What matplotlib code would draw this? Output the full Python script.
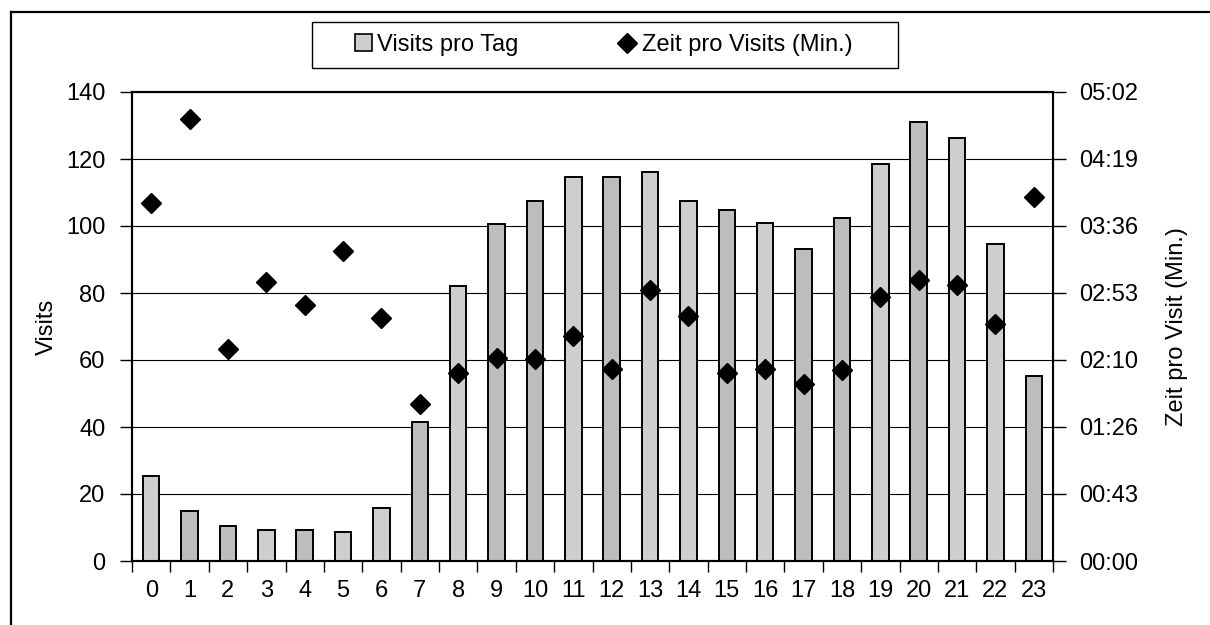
import matplotlib
matplotlib.use("Agg")
import matplotlib.pyplot as plt
from matplotlib.ticker import FuncFormatter, MultipleLocator, FixedLocator, NullFormatter
from matplotlib.lines import Line2D
from matplotlib.patches import Patch, Rectangle

plt.rcParams['font.family'] = ['Liberation Sans', 'DejaVu Sans']

# Hour of day
hours = list(range(24))
# Visits per day, per hour
visits = [25.5, 14.8, 10.5, 9.3, 9.3, 8.8, 15.8, 41.5, 82.0, 100.5, 107.5, 114.5,
          114.5, 116.0, 107.5, 104.8, 101.0, 93.0, 102.3, 118.5, 131.0, 126.3, 94.7, 55.3]
# Time per visit, in seconds
time_per_visit = [231, 285, 137, 180, 165, 200, 157, 101, 121, 131, 130, 145,
                  124, 175, 158, 121, 124, 114, 123, 170, 181, 178, 153, 235]

bar_light = "#cecece"
bar_dark = "#bdbdbd"
shade = "LDDLDLLDLDDLDLLDLDDLDLLD"
bar_colors = [bar_light if s == "L" else bar_dark for s in shade]

W, H = 1210, 625
fig = plt.figure(figsize=(W / 100, H / 100), dpi=100)

# outer chart frame
fig.add_artist(Line2D([11 / W, 1.0], [1 - 12 / H, 1 - 12 / H], color="black", lw=1.6,
                      transform=fig.transFigure))
fig.add_artist(Line2D([11 / W, 11 / W], [0.0, 1 - 12 / H], color="black", lw=1.6,
                      transform=fig.transFigure))

left, right, bottom, top = 132 / W, 1053 / W, 1 - 561 / H, 1 - 92 / H
ax = fig.add_axes([left, bottom, right - left, top - bottom])
ax2 = ax.twinx()

fs = 17

ax.bar(hours, visits, width=0.43, color=bar_colors, edgecolor="black", linewidth=1.4, zorder=3)
ax.set_xlim(-0.5, 23.5)
ax.set_ylim(0, 140)
ax.yaxis.set_major_locator(MultipleLocator(20))
ax.grid(axis="y", color="black", linewidth=0.8, zorder=0)
ax.set_axisbelow(True)

ax.xaxis.set_major_locator(FixedLocator(hours))
ax.xaxis.set_minor_locator(FixedLocator([h - 0.5 for h in hours] + [23.5]))
ax.xaxis.set_minor_formatter(NullFormatter())
ax.tick_params(axis="x", which="major", length=0, pad=14, labelsize=fs)
ax.tick_params(axis="x", which="minor", length=8, width=1.0, direction="out")
ax.tick_params(axis="y", length=9, width=1.0, direction="out", labelsize=fs, pad=10)
ax.set_ylabel("Visits", fontsize=fs, labelpad=6)

for s in ax.spines.values():
    s.set_linewidth(1.5)
for s in ax2.spines.values():
    s.set_linewidth(1.5)

t_max = 302.4
ax2.plot(hours, time_per_visit, linestyle="none", marker="D", markersize=10,
         color="black", zorder=5)
ax2.set_ylim(0, t_max)
ax2.yaxis.set_major_locator(FixedLocator([i * t_max / 7 for i in range(8)]))


def mmss(v, pos):
    s = int(round(v))
    return f"{s // 60:02d}:{s % 60:02d}"


ax2.yaxis.set_major_formatter(FuncFormatter(mmss))
ax2.tick_params(axis="y", length=9, width=1.0, direction="out", labelsize=fs, pad=10)
ax2.set_ylabel("Zeit pro Visit (Min.)", fontsize=fs, labelpad=20)

# legend box
fig.add_artist(Rectangle((312 / W, 1 - 68 / H), 586 / W, 46 / H, transform=fig.transFigure,
                         facecolor="white", edgecolor="black", linewidth=1.0))
handles = [Patch(facecolor=bar_light, edgecolor="black", linewidth=1.2),
           Line2D([], [], linestyle="none", marker="D", markersize=10, color="black")]
labels = ["Visits pro Tag", "Zeit pro Visits (Min.)"]
leg = fig.legend(handles, labels, loc="center left", ncol=2,
                 bbox_to_anchor=(355 / W, 1 - 45 / H), fontsize=fs,
                 frameon=False,
                 handlelength=0.7, handleheight=0.7, handletextpad=0.25,
                 columnspacing=4.25, borderpad=0.0, borderaxespad=0)

fig.savefig("out.png", dpi=100)
